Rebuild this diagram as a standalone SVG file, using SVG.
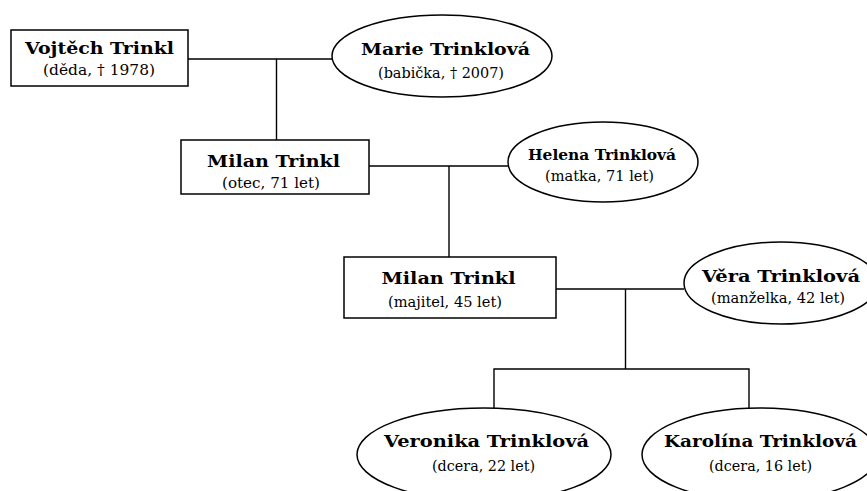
<svg xmlns="http://www.w3.org/2000/svg" width="867" height="491" viewBox="0 0 867 491">
<style>
.shape{fill:#fff;stroke:#000;stroke-width:1.5}
.line{fill:none;stroke:#000;stroke-width:1.4}
.t{font-family:"DejaVu Serif","Liberation Serif",serif;font-weight:bold;font-size:17px;fill:#000;text-anchor:middle}
.t2{font-size:15px}
.s{font-family:"DejaVu Serif","Liberation Serif",serif;font-size:14px;fill:#000;text-anchor:middle}
</style>
<rect width="867" height="491" fill="#fff"/>
<g id="connectors">
<path class="line" d="M188,59 H332 M276.5,59 V140"/>
<path class="line" d="M369,166 H508 M449,166 V257"/>
<path class="line" d="M556,289 H684 M625.5,289 V369 M494,408 V369 H749 V408"/>
</g>
<g id="vojtech">
<rect class="shape" x="11" y="30" width="177" height="56"/>
<text class="t" x="99.5" y="54" textLength="149" lengthAdjust="spacingAndGlyphs">Vojtěch Trinkl</text>
<text class="s" x="99" y="75" textLength="112" lengthAdjust="spacingAndGlyphs">(děda, † 1978)</text>
</g>
<g id="marie">
<ellipse class="shape" cx="442" cy="56" rx="110" ry="41"/>
<text class="t" x="445.5" y="55" textLength="169" lengthAdjust="spacingAndGlyphs">Marie Trinklová</text>
<text class="s" x="441" y="78" textLength="126" lengthAdjust="spacingAndGlyphs">(babička, † 2007)</text>
</g>
<g id="milan-otec">
<rect class="shape" x="181" y="140" width="188" height="54"/>
<text class="t" x="273.5" y="167" textLength="133" lengthAdjust="spacingAndGlyphs">Milan Trinkl</text>
<text class="s" x="271" y="188" textLength="98" lengthAdjust="spacingAndGlyphs">(otec, 71 let)</text>
</g>
<g id="helena">
<ellipse class="shape" cx="603" cy="162" rx="95" ry="40"/>
<text class="t t2" x="602" y="160" textLength="148" lengthAdjust="spacingAndGlyphs">Helena Trinklová</text>
<text class="s" x="599.5" y="181" textLength="109" lengthAdjust="spacingAndGlyphs">(matka, 71 let)</text>
</g>
<g id="milan-majitel">
<rect class="shape" x="344" y="257" width="212" height="61"/>
<text class="t" x="448.5" y="284" textLength="134" lengthAdjust="spacingAndGlyphs">Milan Trinkl</text>
<text class="s" x="445" y="307" textLength="114" lengthAdjust="spacingAndGlyphs">(majitel, 45 let)</text>
</g>
<g id="vera">
<ellipse class="shape" cx="781" cy="283" rx="97" ry="41"/>
<text class="t" x="781" y="282" textLength="158" lengthAdjust="spacingAndGlyphs">Věra Trinklová</text>
<text class="s" x="778" y="303" textLength="134" lengthAdjust="spacingAndGlyphs">(manželka, 42 let)</text>
</g>
<g id="veronika">
<ellipse class="shape" cx="484" cy="454.5" rx="127" ry="46.5"/>
<text class="t" x="486.5" y="447" textLength="205" lengthAdjust="spacingAndGlyphs">Veronika Trinklová</text>
<text class="s" x="483.5" y="471" textLength="103" lengthAdjust="spacingAndGlyphs">(dcera, 22 let)</text>
</g>
<g id="karolina">
<ellipse class="shape" cx="760" cy="454.5" rx="118" ry="46.5"/>
<text class="t" x="760.5" y="447" textLength="193" lengthAdjust="spacingAndGlyphs">Karolína Trinklová</text>
<text class="s" x="760.5" y="471" textLength="103" lengthAdjust="spacingAndGlyphs">(dcera, 16 let)</text>
</g>
</svg>
